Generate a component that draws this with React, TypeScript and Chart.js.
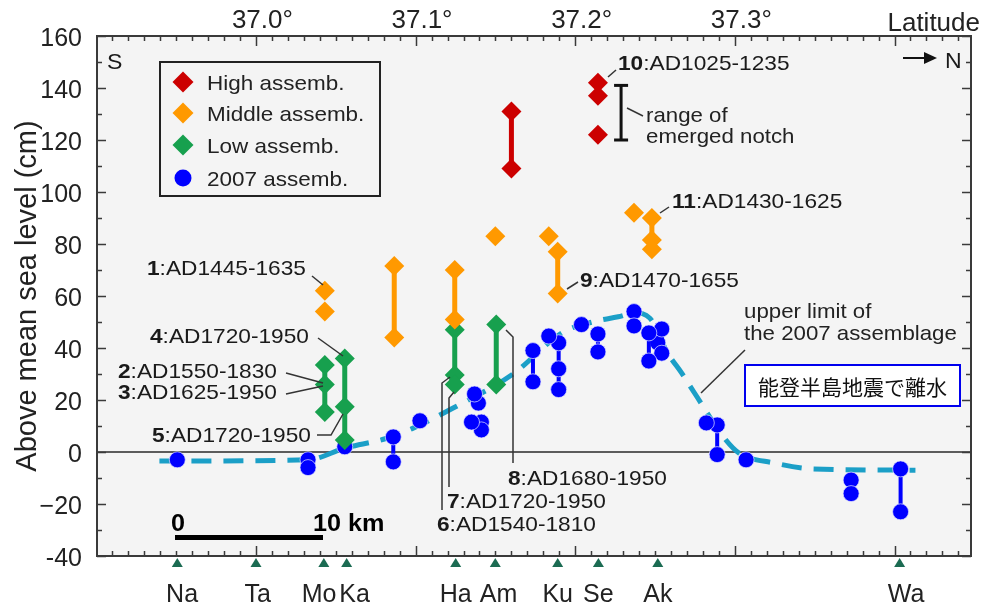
import React, { useEffect, useRef } from 'react';
import { Chart, registerables } from 'chart.js';

Chart.register(...registerables);

const FONT = "'Liberation Sans', Arial, Helvetica, sans-serif";
const CJK_FONT = "'Noto Sans CJK JP', 'Noto Sans CJK SC', sans-serif";
Chart.defaults.font.family = FONT;

// ---------- axes ----------
const LAT_MIN = 36.9004;
const LAT_MAX = 37.4479;
const LEVEL_MIN = -40;
const LEVEL_MAX = 160;
const latitudeTicks = [37.0, 37.1, 37.2, 37.3];
const levelTicks = [-40, -20, 0, 20, 40, 60, 80, 100, 120, 140, 160];

const stationNames = ['Na', 'Ta', 'Mo', 'Ka', 'Ha', 'Am', 'Ku', 'Se', 'Ak', 'Wa'];
const stationLats = [36.9507, 37.0, 37.0425, 37.0568, 37.1251, 37.1499, 37.189, 37.2145, 37.2517, 37.4032];
const stationLabelNudge = [0.003, 0.001, -0.003, 0.005, 0, 0.002, 0, 0, 0, 0.004];

// ---------- data (latitude in degrees, level in cm) ----------
const highSites = [
  { lat: 37.16, levels: [131, 109], joined: true },
  { lat: 37.2142, levels: [142, 137, 122], joined: false },
];

const middleSites = [
  { lat: 37.0431, levels: [62, 54], joined: false },
  { lat: 37.0866, levels: [71.5, 44], joined: true },
  { lat: 37.1245, levels: [70, 51], joined: true },
  { lat: 37.1499, levels: [83], joined: false },
  { lat: 37.1834, levels: [83], joined: false },
  { lat: 37.189, levels: [77, 61], joined: true },
  { lat: 37.2368, levels: [92], joined: false },
  { lat: 37.248, levels: [90, 81.5, 78], joined: true },
];

const lowSites = [
  { lat: 37.0431, levels: [33.5, 26, 15.4], joined: true },
  { lat: 37.0556, levels: [36, 17.4, 4.6], joined: true },
  { lat: 37.1245, levels: [47, 29.6, 26], joined: true },
  { lat: 37.1505, levels: [49, 26], joined: true },
];

const recentSites = [
  { lat: 36.9507, levels: [-3], joined: false },
  { lat: 37.0326, levels: [-3, -6], joined: false },
  { lat: 37.0556, levels: [2], joined: false },
  { lat: 37.086, levels: [5.8, -3.8], joined: true },
  { lat: 37.1027, levels: [12], joined: false },
  { lat: 37.1369, levels: [22.3], joined: false },
  { lat: 37.1393, levels: [18.8], joined: false },
  { lat: 37.135, levels: [11.5], joined: false },
  { lat: 37.1412, levels: [11.5, 8.5], joined: false },
  { lat: 37.1735, levels: [39, 27], joined: true },
  { lat: 37.1834, levels: [44.6], joined: false },
  { lat: 37.1896, levels: [42, 32, 24], joined: true },
  { lat: 37.2039, levels: [49], joined: false },
  { lat: 37.2142, levels: [45.4, 38.5], joined: true },
  { lat: 37.2368, levels: [54, 48.5], joined: false },
  { lat: 37.2461, levels: [45.8, 35], joined: true },
  { lat: 37.2542, levels: [47.3, 38], joined: true },
  { lat: 37.2517, levels: [42], joined: false },
  { lat: 37.2821, levels: [11.2], joined: false },
  { lat: 37.2889, levels: [10.4, -1], joined: true },
  { lat: 37.307, levels: [-3], joined: false },
  { lat: 37.3728, levels: [-10.8, -16], joined: false },
  { lat: 37.4038, levels: [-6.5, -23], joined: true },
];

const upperLimitLat = [36.9395, 37.0326, 37.0556, 37.0804, 37.0978, 37.1238, 37.161, 37.1921, 37.2107, 37.2269, 37.2374, 37.2467, 37.2579, 37.2666, 37.2747, 37.2933, 37.3026, 37.3243, 37.3492, 37.4131];
const upperLimitLevel = [-3.5, -3, 1.5, 5, 9, 17, 30, 46, 50, 52, 53.5, 51.5, 38, 30.4, 22.7, 5.4, -0.4, -4.2, -6.5, -7];

const notchLat = 37.2287;
const notchRange = [141, 120];

// ---------- text annotations ----------
const siteLabels = [
  { num: '1', period: ':AD1445-1635', x: 147, y: 275 },
  { num: '4', period: ':AD1720-1950', x: 150, y: 343 },
  { num: '2', period: ':AD1550-1830', x: 118, y: 378 },
  { num: '3', period: ':AD1625-1950', x: 118, y: 399 },
  { num: '5', period: ':AD1720-1950', x: 152, y: 442 },
  { num: '6', period: ':AD1540-1810', x: 437, y: 531 },
  { num: '7', period: ':AD1720-1950', x: 447, y: 508 },
  { num: '8', period: ':AD1680-1950', x: 508, y: 485 },
  { num: '9', period: ':AD1470-1655', x: 580, y: 287 },
  { num: '10', period: ':AD1025-1235', x: 618, y: 70 },
  { num: '11', period: ':AD1430-1625', x: 672, y: 208 },
];

const leaderLines = [
  [[312, 276], [323, 285]],
  [[318, 338], [343, 356]],
  [[286, 373], [323, 383]],
  [[286, 394], [323, 386]],
  [[317, 435], [331, 435], [343, 414]],
  [[450, 377], [442, 383], [442, 510]],
  [[454, 392], [449, 398], [449, 487]],
  [[506, 330], [513, 337], [513, 463]],
  [[578, 282], [567, 289]],
  [[616, 70], [608, 77]],
  [[669, 207], [660, 213]],
  [[627, 108], [643, 116]],
  [[745, 350], [701, 393]],
];

const legendItems = [
  { label: 'High assemb.', color: '#cc0000', shape: 'diamond' },
  { label: 'Middle assemb.', color: '#ff9900', shape: 'diamond' },
  { label: 'Low assemb.', color: '#17a04e', shape: 'diamond' },
  { label: '2007 assemb.', color: '#0000ff', shape: 'circle' },
];

const COLORS = {
  high: '#cc0000',
  middle: '#ff9900',
  low: '#17a04e',
  recent: '#0000ff',
  limit: '#1b9fc7',
  station: '#1b6b52',
  plotBg: '#f4f4f4',
  frame: '#3a3a3a',
  text: '#1a1a1a',
};

const Y_LABEL_SHIFT = 1.1; // labels sit slightly below their tick in the original

function fmtLevel(v: number) {
  if (v === -40) return '-40';
  if (v < 0) return '\u2212' + Math.abs(v);
  return String(v);
}

function drawText(
  ctx: CanvasRenderingContext2D,
  parts: [string, boolean][],
  x: number,
  y: number,
  size: number,
  align: 'left' | 'center' | 'right' = 'left',
  stretch = 1.08,
  color = COLORS.text,
) {
  ctx.save();
  ctx.fillStyle = color;
  ctx.textBaseline = 'alphabetic';
  ctx.textAlign = 'left';
  const widths = parts.map(([t, b]) => {
    ctx.font = `${b ? 'bold ' : ''}${size}px ${FONT}`;
    return ctx.measureText(t).width;
  });
  const total = widths.reduce((a, b) => a + b, 0);
  ctx.translate(x, y);
  ctx.scale(stretch, 1);
  let cx = align === 'left' ? 0 : align === 'center' ? -total / 2 : -total;
  parts.forEach(([t, b], i) => {
    ctx.font = `${b ? 'bold ' : ''}${size}px ${FONT}`;
    ctx.fillText(t, cx, 0);
    cx += widths[i];
  });
  ctx.restore();
}

function diamond(ctx: CanvasRenderingContext2D, x: number, y: number, r: number, color: string) {
  ctx.beginPath();
  ctx.moveTo(x, y - r);
  ctx.lineTo(x + r, y);
  ctx.lineTo(x, y + r);
  ctx.lineTo(x - r, y);
  ctx.closePath();
  ctx.fillStyle = color;
  ctx.fill();
}

const decorPlugin = {
  id: 'decor',
  beforeDraw(chart: any) {
    const { ctx, chartArea: a } = chart;
    ctx.save();
    ctx.fillStyle = '#ffffff';
    ctx.fillRect(0, 0, chart.width, chart.height);
    ctx.fillStyle = COLORS.plotBg;
    ctx.fillRect(a.left, a.top, a.right - a.left, a.bottom - a.top);
    ctx.restore();
  },
  beforeDatasetsDraw(chart: any) {
    const { ctx, chartArea: a, scales } = chart;
    const y0 = scales.y.getPixelForValue(0);
    ctx.save();
    ctx.strokeStyle = '#2a2a2a';
    ctx.lineWidth = 1.6;
    ctx.beginPath();
    ctx.moveTo(a.left, y0);
    ctx.lineTo(a.right, y0);
    ctx.stroke();
    ctx.restore();
  },
  afterDraw(chart: any) {
    const { ctx, chartArea: a, scales } = chart;
    const xs = scales.x;
    const ys = scales.y;
    ctx.save();

    // frame
    ctx.strokeStyle = COLORS.frame;
    ctx.lineWidth = 2;
    ctx.strokeRect(a.left, a.top, a.right - a.left, a.bottom - a.top);

    // inward ticks top / bottom / left / right
    ctx.lineWidth = 1.5;
    ctx.beginPath();
    for (let k = Math.ceil(LAT_MIN * 100); k <= Math.floor(LAT_MAX * 100); k++) {
      const x = Math.round(xs.getPixelForValue(k / 100)) + 0.5;
      const len = k % 10 === 0 ? 10 : 5;
      ctx.moveTo(x, a.top);
      ctx.lineTo(x, a.top + len);
      ctx.moveTo(x, a.bottom);
      ctx.lineTo(x, a.bottom - len);
    }
    for (let v = LEVEL_MIN; v <= LEVEL_MAX; v += 10) {
      const y = Math.round(ys.getPixelForValue(v)) + 0.5;
      const len = v % 20 === 0 ? 9 : 5;
      ctx.moveTo(a.left, y);
      ctx.lineTo(a.left + len, y);
      ctx.moveTo(a.right, y);
      ctx.lineTo(a.right - len, y);
    }
    ctx.stroke();

    // station triangles
    ctx.fillStyle = COLORS.station;
    stationLats.forEach((lat) => {
      const x = xs.getPixelForValue(lat);
      ctx.beginPath();
      ctx.moveTo(x, a.bottom + 2);
      ctx.lineTo(x + 5.5, a.bottom + 11);
      ctx.lineTo(x - 5.5, a.bottom + 11);
      ctx.closePath();
      ctx.fill();
    });

    // Latitude label
    drawText(ctx, [['Latitude', false]], 980, 31, 25, 'right', 1.04, '#222');

    // S / N
    drawText(ctx, [['S', false]], 107, 69, 22, 'left', 1.05);
    drawText(ctx, [['N', false]], 945, 68, 22, 'left', 1.05);
    ctx.strokeStyle = '#111';
    ctx.lineWidth = 2;
    ctx.beginPath();
    ctx.moveTo(903, 58);
    ctx.lineTo(928, 58);
    ctx.stroke();
    ctx.fillStyle = '#111';
    ctx.beginPath();
    ctx.moveTo(937, 58);
    ctx.lineTo(924, 52);
    ctx.lineTo(924, 64);
    ctx.closePath();
    ctx.fill();

    // legend
    ctx.fillStyle = COLORS.plotBg;
    ctx.fillRect(160, 62, 220, 134);
    ctx.strokeStyle = '#222';
    ctx.lineWidth = 2;
    ctx.strokeRect(160, 62, 220, 134);
    const legendY = [82, 113, 145, 178];
    legendItems.forEach((it, i) => {
      const y = legendY[i];
      if (it.shape === 'diamond') diamond(ctx, 183, y, 10.5, it.color);
      else {
        ctx.beginPath();
        ctx.arc(183, y, 8.5, 0, Math.PI * 2);
        ctx.fillStyle = it.color;
        ctx.fill();
      }
      drawText(ctx, [[it.label, false]], 207, y + 7.5, 21, 'left', 1.07, '#222');
    });

    // leader lines
    ctx.strokeStyle = '#333';
    ctx.lineWidth = 1.5;
    leaderLines.forEach((pts) => {
      ctx.beginPath();
      pts.forEach(([x, y], i) => (i === 0 ? ctx.moveTo(x, y) : ctx.lineTo(x, y)));
      ctx.stroke();
    });

    // site labels
    siteLabels.forEach((s) => {
      drawText(ctx, [[s.num, true], [s.period, false]], s.x, s.y, 21, 'left', 1.08);
    });

    // notch text
    drawText(ctx, [['range of', false]], 646, 122, 21, 'left', 1.06, '#222');
    drawText(ctx, [['emerged notch', false]], 646, 143, 21, 'left', 1.06, '#222');

    // upper limit text
    drawText(ctx, [['upper limit of', false]], 744, 318, 21, 'left', 1.06, '#222');
    drawText(ctx, [['the 2007 assemblage', false]], 744, 340, 21, 'left', 1.06, '#222');

    // Japanese box
    ctx.fillStyle = '#ffffff';
    ctx.fillRect(745, 365, 215, 41);
    ctx.strokeStyle = '#0000ee';
    ctx.lineWidth = 2;
    ctx.strokeRect(745, 365, 215, 41);
    ctx.fillStyle = '#111';
    ctx.font = `21px ${CJK_FONT}`;
    ctx.textAlign = 'center';
    ctx.textBaseline = 'middle';
    ctx.fillText('能登半島地震で離水', 852.5, 387);

    // scale bar
    ctx.fillStyle = '#000';
    ctx.fillRect(175, 535, 148, 5);
    drawText(ctx, [['0', true]], 178, 531, 24, 'center', 1.05, '#000');
    drawText(ctx, [['10 km', true]], 313, 531, 24, 'left', 1.05, '#000');

    ctx.restore();
  },
};

function siteDatasets(sites: { lat: number; levels: number[]; joined: boolean }[], color: string, shape: string, order: number) {
  return sites.map((s) => ({
    type: 'line' as const,
    data: s.levels.map((v) => ({ x: s.lat, y: v })),
    showLine: s.joined,
    borderColor: color,
    borderWidth: shape === 'circle' ? 4 : 5,
    backgroundColor: color,
    pointStyle: shape === 'circle' ? 'circle' : 'rectRot',
    pointRadius: shape === 'circle' ? 8 : 10,
    pointHoverRadius: shape === 'circle' ? 8 : 10,
    pointBackgroundColor: color,
    pointBorderColor: shape === 'circle' ? 'rgba(230,230,255,0.7)' : color,
    pointBorderWidth: shape === 'circle' ? 1 : 0,
    order,
    xAxisID: 'x',
    yAxisID: 'y',
  }));
}

export default function App() {
  const canvasRef = useRef<HTMLCanvasElement | null>(null);

  useEffect(() => {
    if (!canvasRef.current) return;
    const datasets: any[] = [
      {
        type: 'line',
        data: upperLimitLat.map((lat, i) => ({ x: lat, y: upperLimitLevel[i] })),
        showLine: true,
        borderColor: COLORS.limit,
        borderWidth: 5,
        borderDash: [20, 12],
        cubicInterpolationMode: 'monotone',
        pointRadius: 0,
        pointHoverRadius: 0,
        order: 20,
        xAxisID: 'x',
        yAxisID: 'y',
      },
      ...siteDatasets(recentSites, COLORS.recent, 'circle', 10),
      ...siteDatasets(lowSites, COLORS.low, 'diamond', 6),
      ...siteDatasets(middleSites, COLORS.middle, 'diamond', 5),
      ...siteDatasets(highSites, COLORS.high, 'diamond', 4),
      {
        type: 'line',
        data: notchRange.map((v) => ({ x: notchLat, y: v })),
        showLine: true,
        borderColor: '#111',
        borderWidth: 3,
        pointStyle: 'line',
        pointRadius: 7,
        pointHoverRadius: 7,
        pointBorderColor: '#111',
        pointBorderWidth: 3,
        order: 1,
        xAxisID: 'x',
        yAxisID: 'y',
      },
    ];

    const chart = new Chart(canvasRef.current, {
      type: 'scatter',
      data: { datasets },
      options: {
        responsive: false,
        animation: false,
        devicePixelRatio: 1,
        events: [],
        layout: { padding: { left: 0, right: 2, top: 0, bottom: 0 } },
        plugins: {
          legend: { display: false },
          tooltip: { enabled: false },
          title: { display: false },
        },
        scales: {
          x: {
            type: 'linear',
            axis: 'x',
            position: 'bottom',
            min: LAT_MIN,
            max: LAT_MAX,
            grid: { display: false },
            border: { display: false },
            afterFit: (s: any) => {
              s.height = 49;
            },
            afterBuildTicks: (s: any) => {
              s.ticks = stationLats.map((v, i) => ({ value: v + stationLabelNudge[i] }));
            },
            ticks: {
              autoSkip: false,
              maxRotation: 0,
              minRotation: 0,
              padding: 16,
              color: '#222',
              font: { size: 25 },
              callback: (_v: any, i: number) => stationNames[i],
            },
          },
          xTop: {
            type: 'linear',
            axis: 'x',
            position: 'top',
            min: LAT_MIN,
            max: LAT_MAX,
            grid: { display: false },
            border: { display: false },
            afterFit: (s: any) => {
              s.height = 36;
            },
            afterBuildTicks: (s: any) => {
              s.ticks = latitudeTicks.map((v) => ({ value: v + 0.004 }));
            },
            ticks: {
              autoSkip: false,
              maxRotation: 0,
              minRotation: 0,
              padding: -8,
              color: '#222',
              font: { size: 26 },
              callback: (v: any) => (Math.round((Number(v) - 0.004) * 10) / 10).toFixed(1) + '\u00b0',
            },
          },
          y: {
            type: 'linear',
            position: 'left',
            min: LEVEL_MIN,
            max: LEVEL_MAX,
            grid: { display: false },
            border: { display: false },
            afterFit: (s: any) => {
              s.width = 97;
            },
            afterBuildTicks: (s: any) => {
              s.ticks = levelTicks.map((v) => ({ value: v - Y_LABEL_SHIFT }));
            },
            ticks: {
              padding: 7,
              color: '#222',
              font: { size: 25 },
              callback: (v: any) => fmtLevel(Math.round(Number(v) + Y_LABEL_SHIFT)),
            },
            title: {
              display: true,
              text: 'Above mean sea level (cm)',
              color: '#222',
              font: { size: 29 },
              padding: { top: 11, bottom: 0 },
            },
          },
        },
      } as any,
      plugins: [decorPlugin],
    });
    return () => chart.destroy();
  }, []);

  return (
    <div style={{ position: 'fixed', left: 0, top: 0, width: 981, height: 605, background: '#fff' }}>
      <canvas ref={canvasRef} width={981} height={605} style={{ display: 'block', width: 981, height: 605 }} />
    </div>
  );
}
